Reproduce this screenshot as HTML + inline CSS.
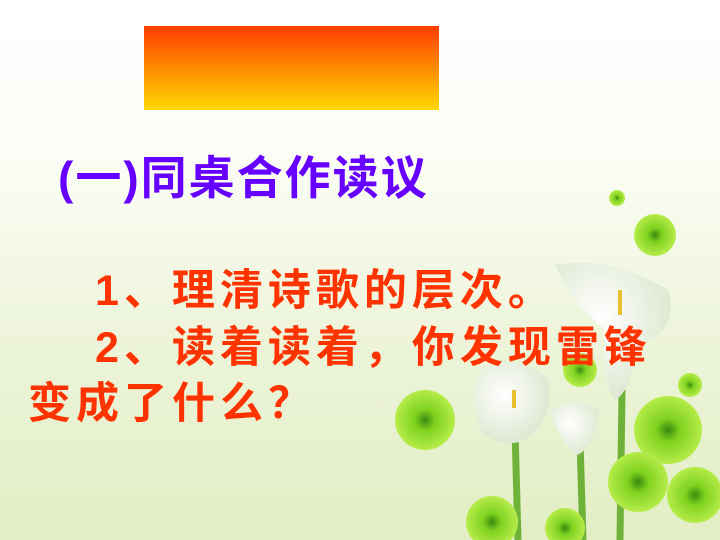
<!DOCTYPE html>
<html><head><meta charset="utf-8"><style>
html,body{margin:0;padding:0}
#slide{position:relative;width:720px;height:540px;overflow:hidden;background:linear-gradient(to bottom,#ffffff 0%,#fdfef9 25%,#eef5dc 60%,#e2eec4 100%);font-family:"Liberation Sans","Noto Sans CJK SC",sans-serif;font-weight:bold}
#banner{position:absolute;left:144px;top:26px;width:295px;height:84px;background:linear-gradient(to bottom,#ff3d00,#ff8a00 50%,#ffd800)}
#title{position:absolute;left:58px;top:142px;font-size:46px;color:#6600ff;white-space:nowrap;letter-spacing:2px}
.line{position:absolute;font-size:43px;color:#ff3300;white-space:nowrap;letter-spacing:5px}
svg{position:absolute;left:0;top:0}
</style></head><body>
<div id="slide">
<svg width="720" height="540">
<defs><radialGradient id="g" cx="50%" cy="50%" r="50%"><stop offset="0" stop-color="#3a8a10"/><stop offset="0.35" stop-color="#7fd21e"/><stop offset="1" stop-color="#b6ec4a"/></radialGradient>
<radialGradient id="w" cx="40%" cy="40%" r="60%"><stop offset="0" stop-color="#ffffff"/><stop offset="1" stop-color="#dfe8d2"/></radialGradient></defs>
<g stroke="#6fb23a" stroke-width="7" fill="none">
<line x1="622" y1="390" x2="620" y2="540"/><line x1="515" y1="430" x2="518" y2="540"/><line x1="580" y1="440" x2="583" y2="540"/></g>
<path d="M555 265 Q610 255 668 290 Q680 330 640 345 Q628 395 615 400 Q600 380 605 330 Q570 300 555 265Z" fill="url(#w)"/>
<path d="M478 372 Q520 350 548 380 Q555 420 525 440 Q500 450 480 430 Q470 400 478 372Z" fill="url(#w)"/>
<path d="M550 410 Q575 395 600 410 Q595 445 578 455 Q558 440 550 410Z" fill="url(#w)"/>
<g fill="url(#g)">
<circle cx="655" cy="235" r="21"/><circle cx="617" cy="198" r="8"/><circle cx="580" cy="370" r="17"/>
<circle cx="425" cy="420" r="30"/><circle cx="690" cy="385" r="12"/><circle cx="668" cy="430" r="34"/>
<circle cx="638" cy="482" r="30"/><circle cx="695" cy="495" r="28"/><circle cx="492" cy="522" r="26"/><circle cx="565" cy="528" r="20"/></g>
<rect x="618" y="290" width="4" height="25" fill="#e8c030"/><rect x="512" y="390" width="4" height="18" fill="#e8c030"/>
</svg>
<div id="banner"></div>
<div id="title">(一)同桌合作读议</div>
<div class="line" style="left:95px;top:256px">1、理清诗歌的层次。</div>
<div class="line" style="left:95px;top:313px">2、读着读着，你发现雷锋</div>
<div class="line" style="left:28px;top:369px">变成了什么？</div>
</div>
</body></html>
